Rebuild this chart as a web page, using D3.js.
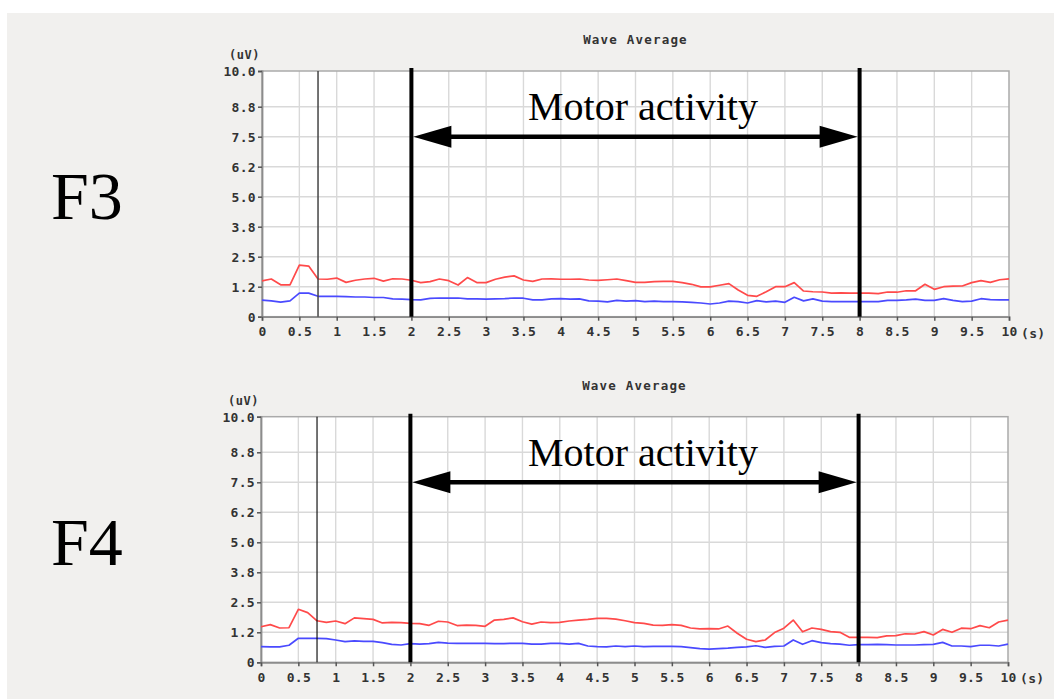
<!DOCTYPE html>
<html>
<head>
<meta charset="utf-8">
<script src="https://cdn.jsdelivr.net/npm/d3@7"></script>
<style>
  html, body { margin: 0; padding: 0; background: #ffffff; }
  svg { display: block; }
  .mono { font-family: "DejaVu Sans Mono", monospace; font-weight: bold; fill: #333333; }
</style>
</head>
<body>
<svg id="chart" width="1054" height="699"></svg>
<script>
// ---- data ---------------------------------------------------------------
// Sampling interval of the averaged waves (seconds)
const sampleStep = 0.125;

// F3 channel: red and blue averaged waveforms (uV)
const f3Red = [1.49,1.57,1.33,1.33,2.15,2.11,1.57,1.56,1.61,1.43,
               1.52,1.57,1.60,1.48,1.58,1.57,1.52,1.42,1.46,1.57,
               1.50,1.32,1.63,1.42,1.42,1.56,1.65,1.70,1.53,1.47,
               1.57,1.58,1.56,1.56,1.57,1.53,1.51,1.54,1.57,1.50,
               1.43,1.43,1.46,1.47,1.47,1.42,1.35,1.24,1.24,1.31,
               1.38,1.11,0.89,0.85,1.04,1.25,1.25,1.42,1.07,1.04,
               1.03,0.98,0.99,0.98,0.98,0.98,0.96,1.03,1.02,1.08,
               1.08,1.35,1.14,1.25,1.27,1.28,1.42,1.50,1.43,1.54,1.58];
const f3Blue = [0.69,0.66,0.61,0.66,0.98,0.98,0.85,0.85,0.85,0.84,
                0.82,0.82,0.80,0.80,0.74,0.73,0.71,0.70,0.76,0.78,
                0.77,0.78,0.74,0.74,0.73,0.74,0.75,0.78,0.77,0.70,
                0.70,0.74,0.75,0.73,0.74,0.66,0.65,0.62,0.68,0.65,
                0.67,0.63,0.65,0.63,0.63,0.62,0.60,0.57,0.53,0.57,
                0.65,0.63,0.57,0.67,0.62,0.65,0.60,0.81,0.66,0.74,
                0.65,0.63,0.63,0.63,0.63,0.63,0.63,0.68,0.68,0.70,
                0.73,0.68,0.68,0.75,0.68,0.63,0.65,0.75,0.71,0.70,0.70];

// F4 channel
const f4Red = [1.48,1.57,1.43,1.44,2.21,2.07,1.73,1.66,1.72,1.61,
               1.85,1.82,1.79,1.64,1.66,1.65,1.62,1.61,1.54,1.71,
               1.68,1.53,1.55,1.54,1.50,1.76,1.79,1.85,1.69,1.59,
               1.68,1.65,1.66,1.72,1.76,1.79,1.83,1.83,1.80,1.73,
               1.65,1.62,1.55,1.54,1.57,1.54,1.43,1.39,1.40,1.39,
               1.51,1.21,0.96,0.86,0.93,1.24,1.42,1.76,1.27,1.43,
               1.37,1.28,1.25,1.04,1.04,1.04,1.03,1.10,1.11,1.19,
               1.18,1.28,1.14,1.37,1.25,1.42,1.40,1.53,1.44,1.68,1.76];
const f4Blue = [0.65,0.64,0.64,0.71,1.00,1.00,1.00,0.99,0.93,0.86,
                0.89,0.87,0.87,0.82,0.75,0.72,0.78,0.76,0.78,0.83,
                0.80,0.79,0.79,0.79,0.79,0.78,0.78,0.79,0.79,0.76,
                0.76,0.79,0.79,0.76,0.79,0.68,0.65,0.64,0.68,0.65,
                0.68,0.65,0.66,0.66,0.66,0.65,0.61,0.57,0.55,0.57,
                0.59,0.62,0.64,0.69,0.62,0.66,0.68,0.93,0.75,0.90,
                0.82,0.78,0.76,0.71,0.74,0.74,0.75,0.74,0.72,0.72,
                0.72,0.74,0.75,0.83,0.68,0.68,0.65,0.71,0.71,0.68,0.76];

// Axis ticks
const xTickValues = [0,0.5,1,1.5,2,2.5,3,3.5,4,4.5,5,5.5,6,6.5,7,7.5,8,8.5,9,9.5,10];
const yTickValues = [0,1.25,2.5,3.75,5,6.25,7.5,8.75,10];
const yTickLabels = ["0","1.2","2.5","3.8","5.0","6.2","7.5","8.8","10.0"];

// Markers: stimulus onset, motor activity window and arrow level
const onsetTime = 0.75;
const activityStart = 2;
const activityEnd = 8;
const arrowLevel = 7.5;
const activityLabel = "Motor activity";
const chartTitle = "Wave Average";

const channels = [
  { name: "F3", red: f3Red, blue: f3Blue },
  { name: "F4", red: f4Red, blue: f4Blue }
];

// ---- layout -------------------------------------------------------------
const svg = d3.select("#chart");
const panelBoxes = [
  { left: 262, right: 1009, top: 71, bottom: 316.7, onsetColor: "#444", onsetWidth: 1.5 },
  { left: 261, right: 1008, top: 416.7, bottom: 662.3, onsetColor: "#000", onsetWidth: 1.1 }
];

// page backdrop
svg.append("rect").attr("x", 0).attr("y", 0).attr("width", 1054).attr("height", 699).attr("fill", "#ffffff");
svg.append("rect").attr("x", 7).attr("y", 13).attr("width", 1047).attr("height", 686).attr("fill", "#f1f0ee");

channels.forEach((ch, k) => {
  const box = panelBoxes[k];
  const g = svg.append("g");

  const x = d3.scaleLinear().domain([0, 10]).range([box.left, box.right]);
  // tick rows are evenly spaced up to 8.75; the last band to the 10.0 row is a bit taller
  const y = d3.scaleLinear()
    .domain([0, 8.75, 10])
    .range([box.bottom, box.bottom - 7 * 30, box.top]);

  // plot area
  g.append("rect")
    .attr("x", box.left).attr("y", box.top)
    .attr("width", box.right - box.left).attr("height", box.bottom - box.top)
    .attr("fill", "#ffffff");

  // grid
  g.append("g").selectAll("line").data(xTickValues.filter(d => d > 0 && d < 10)).join("line")
    .attr("x1", d => x(d)).attr("x2", d => x(d))
    .attr("y1", box.top).attr("y2", box.bottom)
    .attr("stroke", "#d9d9d9").attr("stroke-width", 1.4);
  g.append("g").selectAll("line").data(yTickValues.filter(d => d > 0 && d < 10)).join("line")
    .attr("x1", box.left).attr("x2", box.right)
    .attr("y1", d => y(d)).attr("y2", d => y(d))
    .attr("stroke", "#d9d9d9").attr("stroke-width", 1.4);

  // frame
  g.append("rect")
    .attr("x", box.left).attr("y", box.top)
    .attr("width", box.right - box.left).attr("height", box.bottom - box.top)
    .attr("fill", "none").attr("stroke", "#aaaaaa").attr("stroke-width", 1.5);

  // axes
  const yAxis = d3.axisLeft(y).tickValues(yTickValues)
    .tickFormat((d, i) => yTickLabels[i]).tickSize(4).tickPadding(2);
  const xAxis = d3.axisBottom(x).tickValues(xTickValues)
    .tickFormat(d => String(d)).tickSize(4).tickPadding(6);

  const ya = g.append("g").attr("transform", `translate(${box.left},0)`).call(yAxis);
  const xa = g.append("g").attr("transform", `translate(0,${box.bottom})`).call(xAxis);
  [ya, xa].forEach(a => {
    a.select(".domain").attr("stroke", "#8c8c8c").attr("stroke-width", 1.8);
    a.selectAll(".tick line").attr("stroke", "#555").attr("stroke-width", 1.5);
    a.selectAll(".tick text")
      .attr("class", "mono")
      .style("font-size", "13px").style("letter-spacing", "0.3px")
      .attr("fill", "#333");
  });
  ya.selectAll(".tick text").attr("dy", "0.36em");

  // unit labels
  g.append("text").attr("class", "mono")
    .attr("x", box.left - 2).attr("y", box.top - 12)
    .attr("text-anchor", "end")
    .style("font-size", "12px").style("letter-spacing", "0.5px")
    .text("(uV)");
  g.append("text").attr("class", "mono")
    .attr("x", box.right + 12).attr("y", box.bottom + 21)
    .style("font-size", "13px").style("letter-spacing", "0.3px")
    .text("(s)");

  // title
  g.append("text").attr("class", "mono")
    .attr("x", (box.left + box.right) / 2).attr("y", box.top - 27)
    .attr("text-anchor", "middle")
    .style("font-size", "12.5px").style("letter-spacing", "1.2px")
    .text(chartTitle);

  // waveforms
  const line = d3.line().x((d, i) => x(i * sampleStep)).y(d => y(d));
  g.append("path").datum(ch.red).attr("d", line)
    .attr("fill", "none").attr("stroke", "#ff4a4a").attr("stroke-width", 1.7)
    .attr("stroke-linejoin", "round");
  g.append("path").datum(ch.blue).attr("d", line)
    .attr("fill", "none").attr("stroke", "#4a4aff").attr("stroke-width", 1.7)
    .attr("stroke-linejoin", "round");

  // stimulus onset marker
  g.append("line")
    .attr("x1", x(onsetTime)).attr("x2", x(onsetTime))
    .attr("y1", box.top).attr("y2", box.bottom)
    .attr("stroke", box.onsetColor).attr("stroke-width", box.onsetWidth);

  // motor activity window boundaries
  [activityStart, activityEnd].forEach(t => {
    g.append("line")
      .attr("x1", x(t)).attr("x2", x(t))
      .attr("y1", box.top - 3).attr("y2", box.bottom)
      .attr("stroke", "#000").attr("stroke-width", 4);
  });

  // double-headed arrow across the window
  const ay = y(arrowLevel);
  const xs = x(activityStart) + 2, xe = x(activityEnd) - 2;
  const headLen = 38, headHalf = 11;
  g.append("line")
    .attr("x1", xs + headLen - 2).attr("x2", xe - headLen + 2)
    .attr("y1", ay).attr("y2", ay)
    .attr("stroke", "#000").attr("stroke-width", 4.5);
  g.append("path")
    .attr("d", `M${xs},${ay} L${xs + headLen},${ay - headHalf} L${xs + headLen},${ay + headHalf} Z`)
    .attr("fill", "#000");
  g.append("path")
    .attr("d", `M${xe},${ay} L${xe - headLen},${ay - headHalf} L${xe - headLen},${ay + headHalf} Z`)
    .attr("fill", "#000");

  g.append("text")
    .attr("x", 643).attr("y", box.top + 49)
    .attr("text-anchor", "middle")
    .style("font-family", "'Liberation Serif', 'Times New Roman', serif")
    .style("font-size", "40px")
    .attr("fill", "#000")
    .text(activityLabel);

  // channel label
  g.append("text")
    .attr("x", 51).attr("y", box.top + 148.3)
    .style("font-family", "'Liberation Serif', 'Times New Roman', serif")
    .style("font-size", "68px")
    .attr("fill", "#000")
    .text(ch.name);
});
</script>
</body>
</html>
